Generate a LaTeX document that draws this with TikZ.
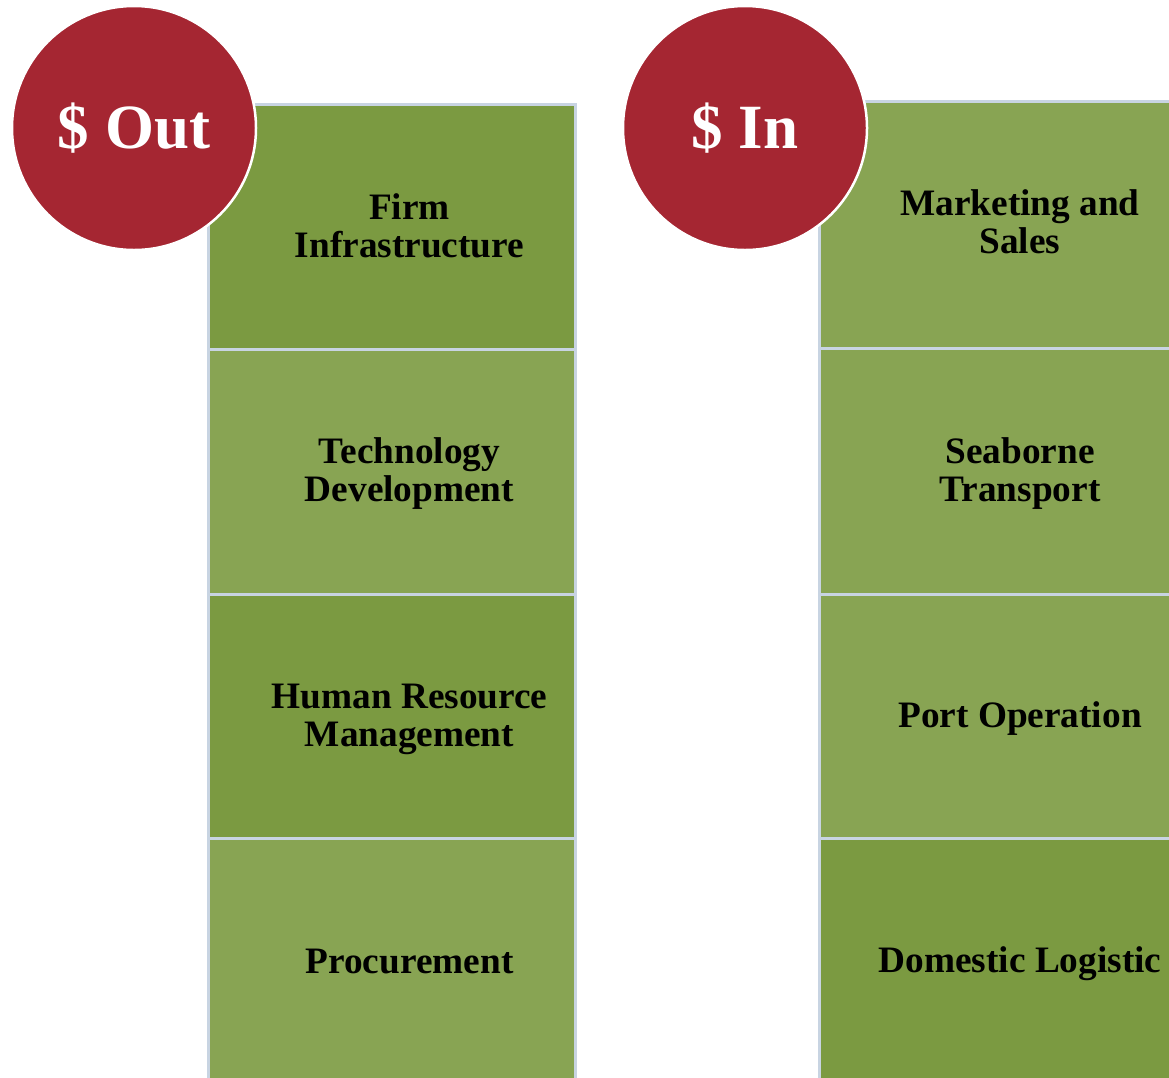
\documentclass[tikz,border=0pt]{standalone}
\usepackage{fontspec}
\setmainfont{Liberation Serif}
\definecolor{gdark}{HTML}{7B9A41}
\definecolor{glight}{HTML}{88A453}
\definecolor{edgecol}{HTML}{C8D4E2}
\definecolor{dred}{HTML}{A52632}
\begin{document}
\begin{tikzpicture}[x=1pt,y=-1pt,
  cell/.style={draw=edgecol, line width=3pt, minimum width=367pt, inner sep=0pt, anchor=north west},
  celltext/.style={align=center, text=black, font=\fontsize{37.3}{38}\selectfont\bfseries, inner sep=0pt},
  coin/.style={circle, fill=dred, draw=white, line width=2.5pt, minimum size=244pt, inner sep=0pt,
    text=white, font=\fontsize{63}{66}\selectfont\bfseries}]
\useasboundingbox (0,0) rectangle (1169,1077);
\clip (0,0) rectangle (1169,1077);
% left column
\node[cell, fill=gdark,  minimum height=245pt] (l1) at (207,103) {};
\node[cell, fill=glight, minimum height=245pt] (l2) at (207,348) {};
\node[cell, fill=gdark,  minimum height=244pt] (l3) at (207,593) {};
\node[cell, fill=glight, minimum height=245pt] (l4) at (207,837) {};
% right column
\node[cell, fill=glight, minimum height=247pt] (r1) at (818,100) {};
\node[cell, fill=glight, minimum height=246pt] (r2) at (818,347) {};
\node[cell, fill=glight, minimum height=244pt] (r3) at (818,593) {};
\node[cell, fill=gdark,  minimum height=245pt] (r4) at (818,837) {};
% texts
\node[celltext] (tl1) at ([xshift=17.5pt,yshift=1pt]l1.center) {Firm\\Infrastructure};
\node[celltext] (tl2) at ([xshift=17.5pt,yshift=-2pt]l2.center) {Technology\\Development};
\node[celltext] (tl3) at ([xshift=17.5pt,yshift=-3pt]l3.center) {Human Resource\\Management};
\node[celltext] (tl4) at ([xshift=17.5pt]l4.center) {Procurement};
\node[celltext] (tr1) at ([xshift=17pt,yshift=3pt]r1.center) {Marketing and\\Sales};
\node[celltext] (tr2) at ([xshift=17pt,yshift=-2pt]r2.center) {Seaborne\\Transport};
\node[celltext] (tr3) at ([xshift=17pt,yshift=-2pt]r3.center) {Port Operation};
\node[celltext] (tr4) at ([xshift=17pt,yshift=-3pt]r4.center) {Domestic Logistic};
% circles
\node[coin] (cout) at (134,128) {\$ Out};
\node[coin] (cin) at (745,128) {\$ In};
\end{tikzpicture}
\end{document}
